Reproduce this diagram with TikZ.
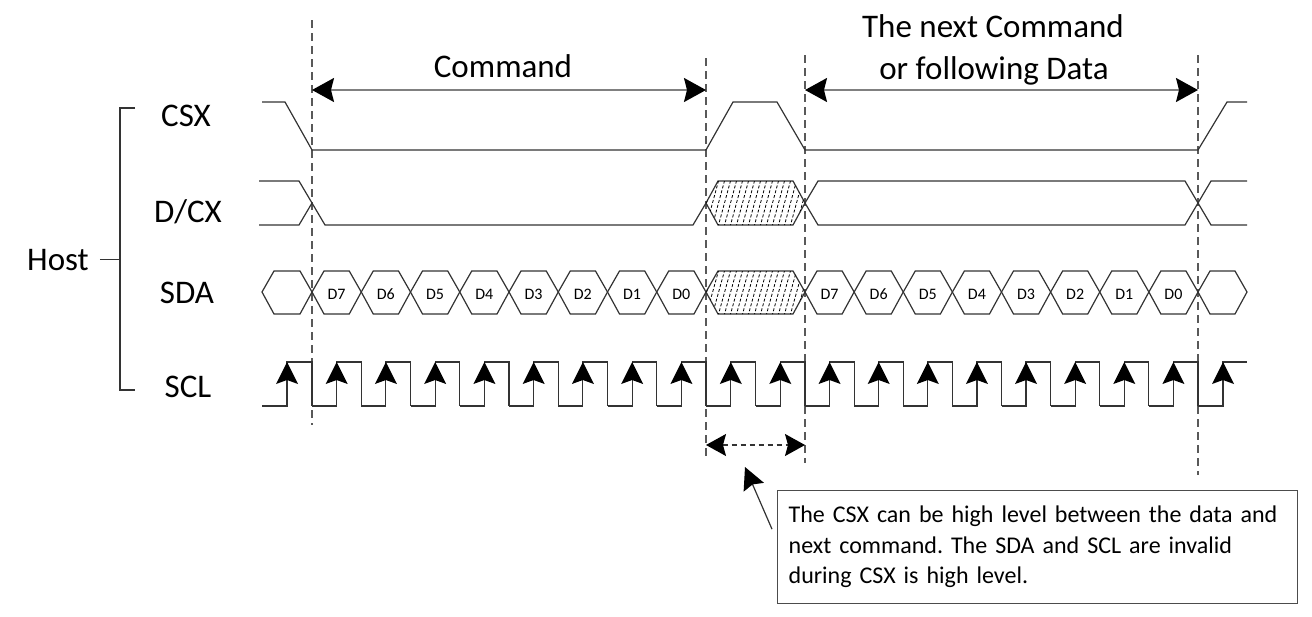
\documentclass[tikz,border=0pt]{standalone}
\usepackage{fontspec}
\setmainfont[Numbers=Lining]{Carlito}
\frenchspacing
\usetikzlibrary{arrows.meta,positioning,calc}

\tikzset{
  wave/.style={black!80, line width=1.2pt},
  guide/.style={black!65, line width=1.2pt, dash pattern=on 8pt off 5pt},
  span/.style={gray, line width=1.8pt, {Stealth[length=22pt,width=24pt,inset=3pt,color=black]}-{Stealth[length=22pt,width=24pt,inset=3pt,color=black]}},
  gapspan/.style={black!80, line width=1.2pt, dash pattern=on 5pt off 4pt, {Stealth[length=20pt,width=22pt,inset=3pt,color=black]}-{Stealth[length=20pt,width=22pt,inset=3pt,color=black]}},
  signame/.style={font=\fontsize{33}{40}\selectfont, inner sep=0pt, anchor=base},
  bitname/.style={font=\fontsize{16}{19}\selectfont, inner sep=0pt, anchor=base},
  hatch/.style={black, line width=0.8pt, dash pattern=on 3pt off 2pt},
}

\begin{document}
\begin{tikzpicture}[x=1pt,y=-1pt]
  \useasboundingbox (0,0) rectangle (1312,616);

  % signal names and host bracket
  \node[signame] (host) at (58,270) {Host};
  \node[signame] (csx) at (186,126) {CSX};
  \node[signame] (dcx) at (188,222) {D/CX};
  \node[signame] (sda) at (187,303) {SDA};
  \node[signame] (scl) at (188,397) {SCL};
  \draw[wave] (135,108) -- (120,108) -- (120,390) -- (135,390);
  \draw[wave] ($(host.east)+(11,0)$) -- (host.east -| 120,0);

  % time marks
  \coordinate (t1) at (312,20);   \coordinate (b1) at (312,425);
  \coordinate (t2) at (706,58);   \coordinate (b2) at (706,457);
  \coordinate (t3) at (805,55);   \coordinate (b3) at (805,463);
  \coordinate (t4) at (1198,55);  \coordinate (b4) at (1198,475);
  \draw[guide] (t1) -- (b1);
  \draw[guide] (t2) -- (b2);
  \draw[guide] (t3) -- (b3);
  \draw[guide] (t4) -- (b4);

  % spans
  \node[signame] (cmd) at (503,77) {Command};
  \node[signame] (nxt) at (993,37) {The next Command};
  \node[signame] (nxt2) at (994,79) {or following Data};
  \coordinate (cmdL) at (312,90);  \coordinate (cmdR) at (706,90);
  \coordinate (nxtL) at (805,90);  \coordinate (nxtR) at (1198,90);
  \draw[span] (cmdL) -- (cmdR);
  \draw[span] (nxtL) -- (nxtR);

  % CSX
  \draw[wave] (262,102) -- (285,102) -- (312,150) -- (706,150) -- (733,102)
    -- (777,102) -- (805,150) -- (1198,150) -- (1227,102) -- (1247,102);

  % D/CX
  \draw[wave] (259,181) -- (299,181) -- (325,225) -- (693,225) -- (706,203);
  \draw[wave] (259,225) -- (299,225) -- (312,203);
  \draw[wave] (706,203) -- (718,181) -- (793,181) -- (805,203) -- (793,225) -- (718,225) -- cycle;
  \draw[wave] (805,203) -- (818,181) -- (1185,181) -- (1211,225) -- (1247,225);
  \draw[wave] (805,203) -- (818,225) -- (1185,225) -- (1211,181) -- (1247,181);
  \begin{scope}
    \clip (706,203) -- (718,181) -- (793,181) -- (805,203) -- (793,225) -- (718,225) -- cycle;
    \foreach \x in {688,694,...,812} \draw[hatch] (\x,227) -- ({\x+13},179);
  \end{scope}

  % SDA
  \draw[wave] (262,292) -- (274,271) -- (300,271) -- (312,292) -- (300,314) -- (274,314) -- cycle;
  \draw[wave] (1198,292) -- (1210,271) -- (1235,271) -- (1247,292) -- (1235,314) -- (1210,314) -- cycle;
  \foreach \a/\p/\s in {312/49.25/c, 805/49.125/n} {
    \foreach \b [count=\i from 0] in {D7,D6,D5,D4,D3,D2,D1,D0} {
      \pgfmathsetmacro\xa{\a+\i*\p}
      \pgfmathsetmacro\xb{\a+(\i+1)*\p}
      \draw[wave] (\xa,292) -- ({\xa+12},271) -- ({\xb-12},271) -- (\xb,292)
        -- ({\xb-12},314) -- ({\xa+12},314) -- cycle;
      \node[bitname] (bit\s\i) at ({(\xa+\xb)/2},299) {\b};
    }
  }
  \draw[wave] (706,292) -- (718,271) -- (793,271) -- (805,292) -- (793,314) -- (718,314) -- cycle;
  \begin{scope}
    \clip (706,292) -- (718,271) -- (793,271) -- (805,292) -- (793,314) -- (718,314) -- cycle;
    \foreach \x in {688,694,...,812} \draw[hatch] (\x,316) -- ({\x+13},269);
  \end{scope}

  % SCL
  \draw[wave] (262,406) -- (287,406) -- (287,362) -- (312,362) -- (312,406);
  \fill[black] (287,362) -- ++(-11,22) -- ++(11,-4) -- ++(11,4) -- cycle;
  \foreach \a/\p/\n in {312/49.25/8, 706/49.5/2, 805/49.125/8} {
    \foreach \i in {1,...,\n} {
      \pgfmathsetmacro\xa{\a+(\i-1)*\p}
      \pgfmathsetmacro\xr{\xa+\p/2}
      \pgfmathsetmacro\xb{\xa+\p}
      \draw[wave] (\xa,406) -- (\xr,406) -- (\xr,362) -- (\xb,362) -- (\xb,406);
      \fill[black] (\xr,362) -- ++(-11,22) -- ++(11,-4) -- ++(11,4) -- cycle;
    }
  }
  \draw[wave] (1198,406) -- (1223,406) -- (1223,362) -- (1247,362);
  \fill[black] (1223,362) -- ++(-11,22) -- ++(11,-4) -- ++(11,4) -- cycle;

  % gap note
  \coordinate (gapL) at (706,445);  \coordinate (gapR) at (805,445);
  \draw[gapspan] (gapL) -- (gapR);
  \node[draw=black!70, line width=1.3pt, anchor=north west, text width=498pt,
    inner xsep=11pt, inner ysep=0pt, minimum height=113pt, align=left,
    font=\fontsize{24}{30.5}\selectfont] (note) at (777,490)
    {The CSX can be high level between the data and\\
     next command. The SDA and SCL are invalid\\
     during CSX is high level.};
  \coordinate (ptr) at (745,467);
  \draw[black!80, line width=1.2pt, -{Stealth[length=22pt,width=22pt,inset=3pt,color=black]}]
    ($(note.west)+(-5,-18)$) -- (ptr);
\end{tikzpicture}
\end{document}
